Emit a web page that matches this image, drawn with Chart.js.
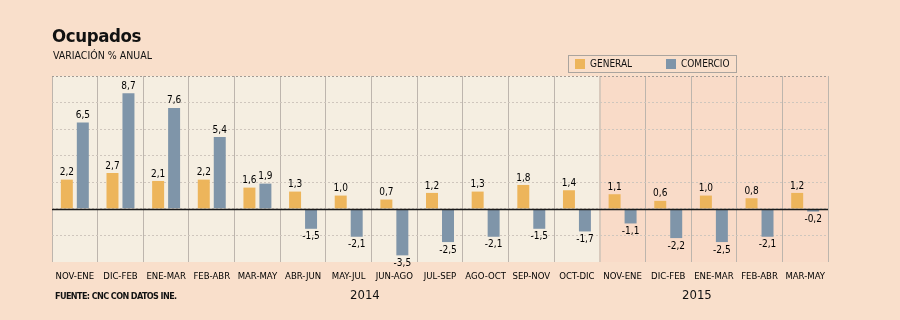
<!DOCTYPE html>
<html>
<head>
<meta charset="utf-8">
<script src="https://cdn.jsdelivr.net/npm/chart.js@4.4.1/dist/chart.umd.min.js"></script>
<style>
  html, body { margin: 0; padding: 0; background: #f9dfcb; }
  #wrap { position: relative; width: 900px; height: 320px; overflow: hidden;
    font-family: "DejaVu Sans Condensed", "DejaVu Sans", sans-serif; color: #111; }
  #myChart { position: absolute; left: 0; top: 0; }
  .title { position: absolute; left: 52px; top: 25px; font-size: 18.5px; font-weight: bold; letter-spacing: -0.4px; }
  .subtitle { position: absolute; left: 53px; top: 49px; font-size: 10.5px; }
  .legend { position: absolute; left: 568px; top: 55px; width: 167px; height: 16px;
    border: 1px solid #aaa49e; font-size: 10px; }
  .legend span.sw { position: absolute; top: 3px; width: 10px; height: 10px; }
  .legend span.lb { position: absolute; top: 2px; }
  .source { position: absolute; left: 55px; top: 291px; font-size: 9px; font-weight: bold; letter-spacing: -0.6px; }
  .year { position: absolute; top: 287px; font-size: 13px; }
</style>
</head>
<body>
<div id="wrap">
  <canvas id="myChart" width="900" height="320"></canvas>
  <div class="title">Ocupados</div>
  <div class="subtitle">VARIACIÓN % ANUAL</div>
  <div class="legend">
    <span class="sw" style="left:6px;background:#edb55b"></span><span class="lb" style="left:21px">GENERAL</span>
    <span class="sw" style="left:97px;background:#7f95a9"></span><span class="lb" style="left:112px">COMERCIO</span>
  </div>
  <div class="source">FUENTE: CNC CON DATOS INE.</div>
  <div class="year" style="left:350px">2014</div>
  <div class="year" style="left:682px">2015</div>
</div>
<script>
const categories = ["NOV-ENE", "DIC-FEB", "ENE-MAR", "FEB-ABR", "MAR-MAY", "ABR-JUN", "MAY-JUL", "JUN-AGO",
  "JUL-SEP", "AGO-OCT", "SEP-NOV", "OCT-DIC", "NOV-ENE", "DIC-FEB", "ENE-MAR", "FEB-ABR", "MAR-MAY"];
const general = [2.2, 2.7, 2.1, 2.2, 1.6, 1.3, 1.0, 0.7, 1.2, 1.3, 1.8, 1.4, 1.1, 0.6, 1.0, 0.8, 1.2];
const comercio = [6.5, 8.7, 7.6, 5.4, 1.9, -1.5, -2.1, -3.5, -2.5, -2.1, -1.5, -1.7, -1.1, -2.2, -2.5, -2.1, -0.2];
const firstIndex2015 = 12;

const FONT = "DejaVu Sans Condensed";

// backgrounds, zero line and value labels
const decorPlugin = {
  id: "decor",
  beforeDraw(chart) {
    const { ctx, chartArea: a, scales } = chart;
    ctx.save();
    ctx.fillStyle = "#f9dfcb";
    ctx.fillRect(0, 0, chart.width, chart.height);
    const x = scales.x;
    const split = (x.getPixelForValue(firstIndex2015 - 1) + x.getPixelForValue(firstIndex2015)) / 2;
    ctx.fillStyle = "#f5eee1";
    ctx.fillRect(a.left, a.top, split - a.left, a.bottom - a.top);
    ctx.fillStyle = "#f9dbc8";
    ctx.fillRect(split, a.top, a.right - split, a.bottom - a.top);
    ctx.restore();
  },
  afterDatasetsDraw(chart) {
    const { ctx, chartArea: a, scales } = chart;
    const y0 = Math.round(scales.y.getPixelForValue(0)) + 0.5;
    ctx.save();
    ctx.strokeStyle = "#1a1a1a";
    ctx.lineWidth = 1.5;
    ctx.beginPath();
    ctx.moveTo(a.left, y0);
    ctx.lineTo(a.right, y0);
    ctx.stroke();

    ctx.fillStyle = "#000";
    ctx.font = "10px '" + FONT + "'";
    ctx.textAlign = "center";
    chart.data.datasets.forEach((ds, di) => {
      chart.getDatasetMeta(di).data.forEach((bar, i) => {
        const v = ds.data[i];
        const txt = v.toFixed(1).replace(".", ",");
        if (v >= 0) {
          ctx.textBaseline = "bottom";
          ctx.fillText(txt, bar.x, bar.y - 2);
        } else {
          ctx.textBaseline = "top";
          ctx.fillText(txt, bar.x, bar.y + 3);
        }
      });
    });
    ctx.restore();
  },
};

const ctx = document.getElementById("myChart").getContext("2d");
new Chart(ctx, {
  type: "bar",
  data: {
    labels: categories,
    datasets: [
      { label: "GENERAL", data: general, backgroundColor: "#edb55b", borderWidth: 0 },
      { label: "COMERCIO", data: comercio, backgroundColor: "#7f95a9", borderWidth: 0 },
    ],
  },
  options: {
    responsive: false,
    animation: false,
    events: [],
    categoryPercentage: 0.7,
    barPercentage: 0.75,
    layout: { padding: { top: 76, right: 72, left: 0, bottom: 0 } },
    plugins: {
      legend: { display: false },
      tooltip: { enabled: false },
    },
    scales: {
      x: {
        afterFit(scale) { scale.height = 58; },
        grid: {
          offset: true,
          drawTicks: false,
          color: (c) => (c.index === firstIndex2015 ? "#d8c9bc" : "#bdb5ad"),
          lineWidth: (c) => (c.index === firstIndex2015 ? 2 : 1),
        },
        border: { display: false },
        ticks: { color: "#000", font: { family: FONT, size: 9.5 }, padding: 9, maxRotation: 0, autoSkip: false },
      },
      y: {
        min: -4,
        max: 10,
        afterFit(scale) { scale.width = 52; },
        ticks: { display: false, stepSize: 2 },
        grid: {
          drawTicks: false,
          color: (c) => {
            if (!c.tick) return "#cfc6bd";
            if (c.tick.value === -4) return "rgba(0,0,0,0)";
            if (c.tick.value === 10) return "#a39b94";
            return "#cfc6bd";
          },
          lineWidth: 1,
        },
        border: { display: false, dash: [2, 2] },
      },
    },
  },
  plugins: [decorPlugin],
});
</script>
</body>
</html>
